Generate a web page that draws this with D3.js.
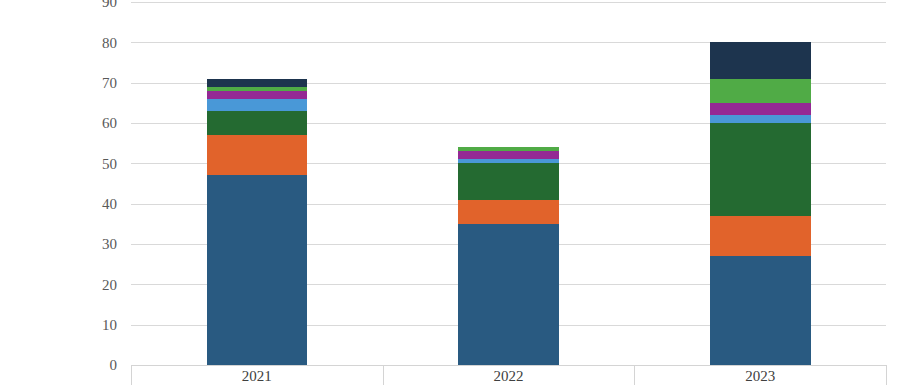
<!DOCTYPE html>
<html>
  <head>
    <meta charset="utf-8" />
    <title>Stacked bars 2021-2023</title>
    <script src="https://d3js.org/d3.v7.min.js"></script>
    <style>
      body { margin: 0; background: #fff; }
      svg text { font-family: "Liberation Serif", "DejaVu Serif", serif; }
    </style>
  </head>
  <body>
    <svg width="905" height="385"></svg>

    <script>
      // data
      var years = ["2021", "2022", "2023"];
      var series = ["s1", "s2", "s3", "s4", "s5", "s6", "s7"];
      var s1 = [47, 35, 27];
      var s2 = [10, 6, 10];
      var s3 = [6, 9, 23];
      var s4 = [3, 1, 2];
      var s5 = [2, 2, 3];
      var s6 = [1, 1, 6];
      var s7 = [2, 0, 9];
      var yTicks = [0, 10, 20, 30, 40, 50, 60, 70, 80, 90];
      var colors = ["#295a81", "#e1632b", "#246a31", "#4998d7", "#942994", "#50ab46", "#1d344e"];

      var values = [s1, s2, s3, s4, s5, s6, s7];
      var data = years.map(function (yr, i) {
        var row = { year: yr };
        series.forEach(function (k, j) { row[k] = values[j][i]; });
        return row;
      });

      var svg = d3.select("svg");
      var plotLeft = 131, plotRight = 886, plotTop = 2, plotBottom = 365;

      var x = d3.scaleBand().domain(years).range([plotLeft, plotRight])
        .paddingInner(0.6).paddingOuter(0.3);
      var y = d3.scaleLinear().domain([0, 90]).range([plotBottom, plotTop]);
      var color = d3.scaleOrdinal().domain(series).range(colors);

      // gridlines
      svg.append("g")
        .selectAll("line")
        .data(yTicks.filter(function (t) { return t > 0; }))
        .enter()
        .append("line")
        .attr("x1", plotLeft)
        .attr("x2", plotRight)
        .attr("y1", function (d) { return Math.round(y(d)) + 0.5; })
        .attr("y2", function (d) { return Math.round(y(d)) + 0.5; })
        .attr("stroke", "#d9d9d9")
        .attr("stroke-width", 1);

      // y axis labels
      var yAxis = svg.append("g")
        .attr("transform", "translate(" + plotLeft + ",0)")
        .call(d3.axisLeft(y).tickValues(yTicks).tickSize(0).tickPadding(14));
      yAxis.select(".domain").remove();
      yAxis.selectAll("text")
        .attr("fill", "#595959")
        .style("font-size", "15px")
        .style("font-family", "'Liberation Serif', serif");

      // stacked bars
      var stacked = d3.stack().keys(series)(data);
      svg.append("g")
        .attr("shape-rendering", "crispEdges")
        .selectAll("g")
        .data(stacked)
        .enter()
        .append("g")
        .attr("fill", function (d) { return color(d.key); })
        .selectAll("rect")
        .data(function (d) { return d; })
        .enter()
        .append("rect")
        .attr("x", function (d) { return x(d.data.year); })
        .attr("y", function (d) { return y(d[1]); })
        .attr("height", function (d) { return y(d[0]) - y(d[1]); })
        .attr("width", x.bandwidth());

      // category table at the bottom
      var step = x.step();
      var edges = [plotLeft].concat(years.map(function (yr) {
        return x(yr) + x.bandwidth() + step * 0.3;
      }));
      var table = svg.append("g").attr("stroke", "#d4d4d4").attr("stroke-width", 1);
      table.append("line")
        .attr("x1", plotLeft).attr("x2", plotRight)
        .attr("y1", plotBottom + 0.5).attr("y2", plotBottom + 0.5);
      table.selectAll("line.v")
        .data(edges)
        .enter()
        .append("line")
        .attr("class", "v")
        .attr("x1", function (d) { return Math.round(d) + 0.5; })
        .attr("x2", function (d) { return Math.round(d) + 0.5; })
        .attr("y1", plotBottom)
        .attr("y2", 385);

      svg.append("g")
        .selectAll("text")
        .data(years)
        .enter()
        .append("text")
        .attr("x", function (d) { return x(d) + x.bandwidth() / 2; })
        .attr("y", 381)
        .attr("text-anchor", "middle")
        .attr("fill", "#404040")
        .style("font-size", "15px")
        .text(function (d) { return d; });
    </script>
  </body>
</html>
